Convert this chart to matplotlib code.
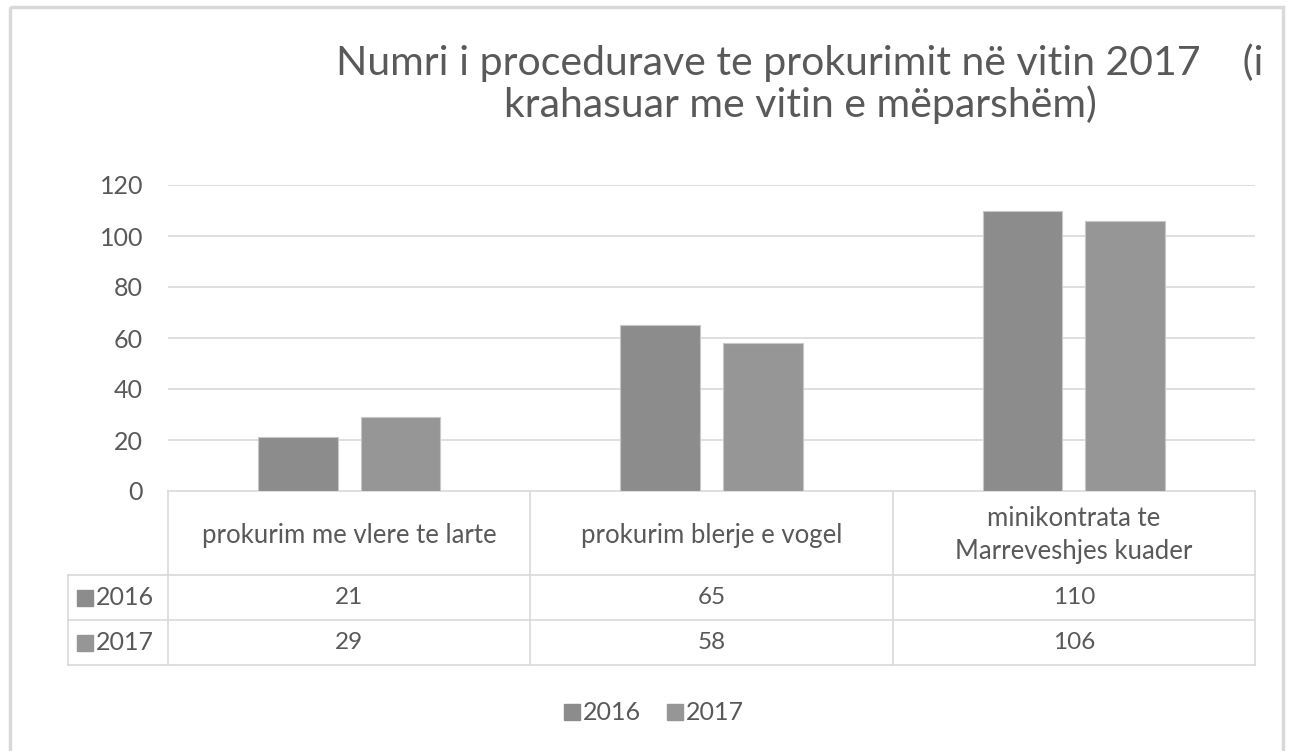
import matplotlib.pyplot as plt
from matplotlib.patches import Rectangle

categories = ['prokurim me vlere te larte', 'prokurim blerje e vogel',
              'minikontrata te\nMarreveshjes kuader']
series_names = ['2016', '2017']
values_2016 = [21, 65, 110]
values_2017 = [29, 58, 106]
yticks = [0, 20, 40, 60, 80, 100, 120]

title = 'Numri i procedurave te prokurimit në vitin 2017    (i\nkrahasuar me vitin e mëparshëm)'

plt.rcParams['font.family'] = ['Lato', 'DejaVu Sans']
txt = '#595959'
grid = '#d9d9d9'
colors = ['#8c8c8c', '#969696']

W, H = 1293, 751
fig = plt.figure(figsize=(W / 100, H / 100), dpi=100)

# pixel geometry of the plot area
x0, x1 = 168, 1255
y_top, y_zero = 185, 491
ax = fig.add_axes([x0 / W, 1 - y_zero / H, (x1 - x0) / W, (y_zero - y_top) / H])
ax.set_xlim(-0.5, len(categories) - 0.5)
ax.set_ylim(0, 120)

n = len(categories)
pos = list(range(n))
off = 0.142
ax.bar([p - off for p in pos], values_2016, width=0.22, color=colors[0],
       edgecolor='#c8c8c8', linewidth=0.8, zorder=3)
ax.bar([p + off for p in pos], values_2017, width=0.22, color=colors[1],
       edgecolor='#c8c8c8', linewidth=0.8, zorder=3)

ax.set_yticks(yticks)
ax.set_xticks([])
ax.grid(axis='y', color=grid, linewidth=1.2, zorder=0)
for s in ax.spines.values():
    s.set_visible(False)
ax.tick_params(axis='y', length=0, pad=18, labelsize=18, labelcolor=txt)

# overlay axes in pixel units for the data table, title, legend and border
ov = fig.add_axes([0, 0, 1, 1], zorder=-1)
ov.set_xlim(0, W)
ov.set_ylim(H, 0)
ov.axis('off')

ov.add_patch(Rectangle((10, 7), W - 20, H - 7 + 5, fill=False, edgecolor=grid, linewidth=2.5))

ov.text(800, 84, title, ha='center', va='center', fontsize=29.5, color=txt,
        linespacing=1.1)

col_w = (x1 - x0) / n
tl = 68
r0, r1, r2, r3 = y_zero, 575, 620, 665
# horizontal lines
ov.plot([x0, x1], [r0, r0], color=grid, lw=1.2)
for yy in (r1, r2, r3):
    ov.plot([tl, x1], [yy, yy], color=grid, lw=1.2)
# vertical lines
ov.plot([tl, tl], [r1, r3], color=grid, lw=1.2)
for i in range(n + 1):
    ov.plot([x0 + i * col_w] * 2, [r0, r3], color=grid, lw=1.2)

for i, c in enumerate(categories):
    cx = x0 + (i + 0.5) * col_w
    ov.text(cx, (r0 + r1) / 2 + 2, c, ha='center', va='center', fontsize=18.5,
            color=txt, linespacing=1.35)
    ov.text(cx, (r1 + r2) / 2, str(values_2016[i]), ha='center', va='center', fontsize=17.5, color=txt)
    ov.text(cx, (r2 + r3) / 2, str(values_2017[i]), ha='center', va='center', fontsize=17.5, color=txt)

for j, (name, yy) in enumerate(zip(series_names, [(r1 + r2) / 2, (r2 + r3) / 2])):
    ov.add_patch(Rectangle((77, yy - 8), 16, 16, color=colors[j]))
    ov.text(96, yy, name, ha='left', va='center', fontsize=18, color=txt)

# legend
lx = [564, 667]
for j, name in enumerate(series_names):
    ov.add_patch(Rectangle((lx[j], 704), 16, 16, color=colors[j]))
    ov.text(lx[j] + 19, 712, name, ha='left', va='center', fontsize=18, color=txt)

fig.savefig('out.png', dpi=100)
